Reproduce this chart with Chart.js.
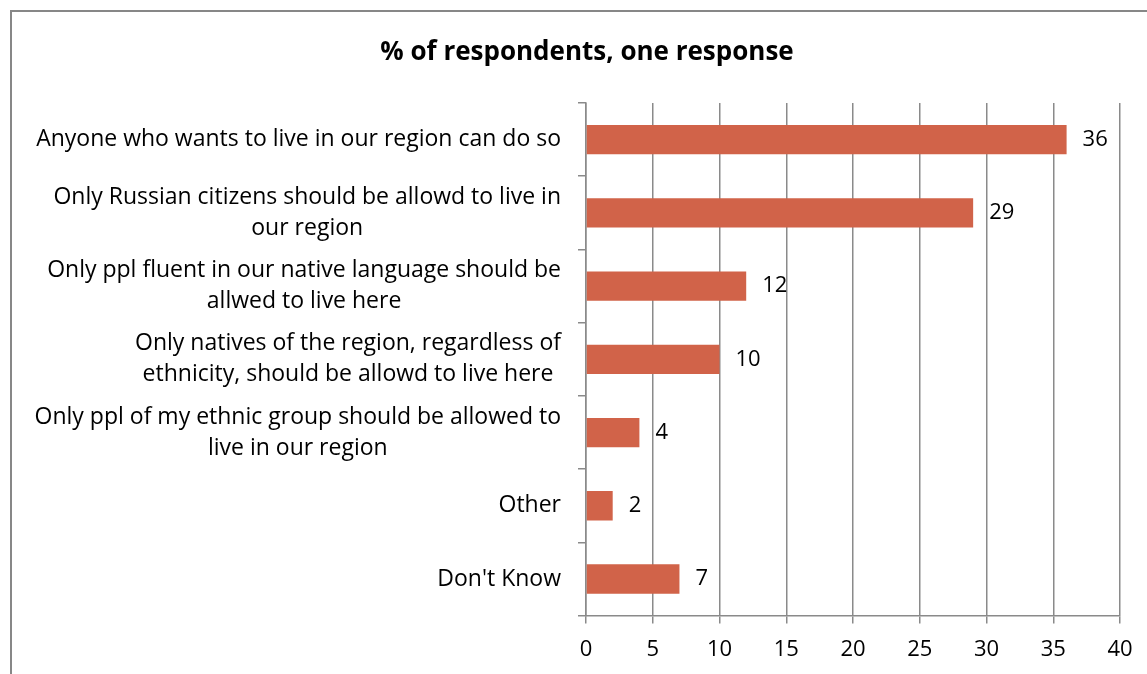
<!DOCTYPE html>
<html lang="en">
<head>
    <meta charset="UTF-8">
    <title>% of respondents, one response</title>
    <script src="https://cdn.jsdelivr.net/npm/chart.js"></script>
    <style>
        html, body { margin: 0; padding: 0; background: #fff; overflow: hidden; }
        body { width: 1147px; height: 674px; position: relative; }
        .frame {
            position: absolute; left: 10px; top: 10px;
            width: 1152px; height: 684px;
            border-left: 2px solid #878787; border-top: 2px solid #878787;
            box-sizing: border-box;
        }
        .frame canvas { display: block; }
    </style>
</head>
<body>
    <div class="frame">
        <canvas id="chart" width="1150" height="680"></canvas>
    </div>

    <script>
        const categories = [
            ['Anyone who wants to live in our region can do so'],
            ['Only Russian citizens should be allowd to live in', 'our region'],
            ['Only ppl fluent in our native language should be', 'allwed to live here'],
            ['Only natives of the region, regardless of', 'ethnicity, should be allowd to live here'],
            ['Only ppl of my ethnic group should be allowed to', 'live in our region'],
            ['Other'],
            ["Don't Know"]
        ];
        const values = [36, 29, 12, 10, 4, 2, 7];
        const xTicks = [0, 5, 10, 15, 20, 25, 30, 35, 40];
        const titleText = '% of respondents, one response';

        const FONT = '"Open Sans", Lato, sans-serif';
        const LABEL_SIZE = 23;
        const NUM_SIZE = 22;
        const GRID = '#8a8a8a';

        // title centred on the whole canvas, not on the plot
        const chartTitle = {
            id: 'chartTitle',
            afterDraw(chart) {
                const ctx = chart.ctx;
                ctx.save();
                ctx.font = 'bold 26px ' + FONT;
                ctx.fillStyle = '#000';
                ctx.textAlign = 'center';
                ctx.textBaseline = 'middle';
                ctx.fillText(titleText, chart.width / 2, 41);
                ctx.restore();
            }
        };

        // category labels: block right-aligned next to the axis, lines centred inside the block
        const categoryLabels = {
            id: 'categoryLabels',
            afterDraw(chart) {
                const ctx = chart.ctx;
                const y = chart.scales.y;
                const right = chart.chartArea.left - 25;
                const lineH = 31;
                ctx.save();
                ctx.font = LABEL_SIZE + 'px ' + FONT;
                ctx.fillStyle = '#000';
                ctx.textAlign = 'center';
                ctx.textBaseline = 'middle';
                categories.forEach((lines, i) => {
                    const w = Math.max(...lines.map(l => ctx.measureText(l).width));
                    const cx = right - w / 2;
                    const cy = y.getPixelForValue(i);
                    lines.forEach((line, j) => {
                        ctx.fillText(line, cx, cy + (j - (lines.length - 1) / 2) * lineH);
                    });
                });
                ctx.restore();
            }
        };

        // value printed just past the end of each bar
        const valueLabels = {
            id: 'valueLabels',
            afterDatasetsDraw(chart) {
                const ctx = chart.ctx;
                const meta = chart.getDatasetMeta(0);
                ctx.save();
                ctx.font = NUM_SIZE + 'px ' + FONT;
                ctx.fillStyle = '#000';
                ctx.textAlign = 'left';
                ctx.textBaseline = 'middle';
                meta.data.forEach((bar, i) => {
                    ctx.fillText(String(values[i]), bar.x + 16, bar.y);
                });
                ctx.restore();
            }
        };

        new Chart(document.getElementById('chart'), {
            type: 'bar',
            data: {
                labels: categories,
                datasets: [{
                    data: values,
                    backgroundColor: '#d16349',
                    borderWidth: 0,
                    barPercentage: 0.4,
                    categoryPercentage: 1
                }]
            },
            options: {
                indexAxis: 'y',
                responsive: false,
                animation: false,
                layout: { padding: { left: 566, right: 42, top: 91, bottom: 16 } },
                plugins: {
                    legend: { display: false },
                    tooltip: { enabled: false },
                    title: { display: false }
                },
                scales: {
                    x: {
                        min: 0,
                        max: 40,
                        afterBuildTicks(scale) {
                            scale.ticks = xTicks.map(v => ({ value: v }));
                        },
                        grid: { color: GRID, lineWidth: 1.5, tickLength: 8 },
                        border: { color: GRID, width: 1.5 },
                        ticks: {
                            color: '#000',
                            padding: 13,
                            font: { family: FONT, size: NUM_SIZE }
                        }
                    },
                    y: {
                        grid: {
                            offset: true,
                            drawOnChartArea: false,
                            color: GRID,
                            lineWidth: 1.5,
                            tickLength: 8
                        },
                        border: { color: GRID, width: 1.5 },
                        ticks: { display: false }
                    }
                }
            },
            plugins: [chartTitle, categoryLabels, valueLabels]
        });
    </script>
</body>
</html>
